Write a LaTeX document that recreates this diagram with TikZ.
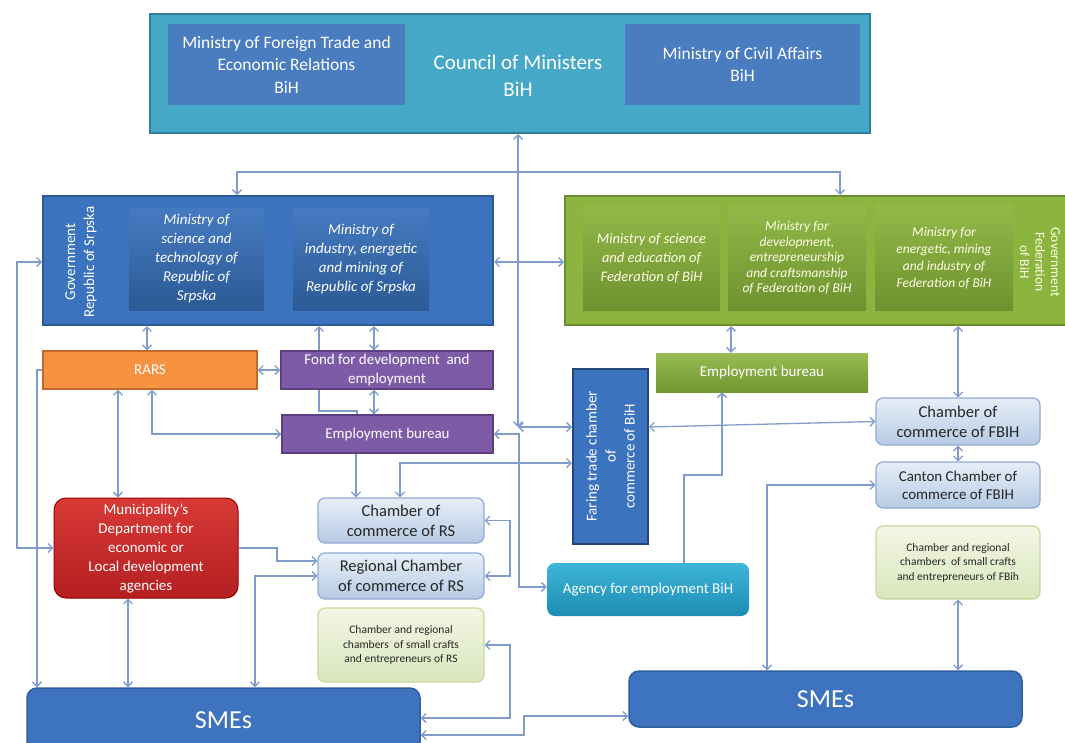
\documentclass[tikz,border=0pt]{standalone}
\usepackage{fontspec}
\setmainfont{Carlito}
\usetikzlibrary{arrows.meta,backgrounds}
\definecolor{linkblue}{HTML}{7F9CCD}
\definecolor{cmcyan}{HTML}{45A8C6}
\definecolor{cmedge}{HTML}{2E7D99}
\definecolor{midblue}{HTML}{4A7DC0}
\definecolor{rsblue}{HTML}{3B73BE}
\definecolor{rsedge}{HTML}{2C5A95}
\definecolor{fbgreen}{HTML}{8CB53F}
\definecolor{fbedge}{HTML}{6B8E2E}
\definecolor{rarsorange}{HTML}{F69240}
\definecolor{rarsedge}{HTML}{C2692B}
\definecolor{fondpurple}{HTML}{7D5BA6}
\definecolor{fondedge}{HTML}{5A3E7E}
\definecolor{agencytop}{HTML}{3DB5D8}
\definecolor{agencybot}{HTML}{1E8DB3}
\definecolor{munitop}{HTML}{D83A36}
\definecolor{munibot}{HTML}{B51F22}
\definecolor{chambertop}{HTML}{E6EEF8}
\definecolor{chamberbot}{HTML}{B7CBE4}
\definecolor{chamberedge}{HTML}{8EAAD3}
\definecolor{craftstop}{HTML}{F3F7E6}
\definecolor{craftsbot}{HTML}{DAE6BC}
\definecolor{craftsedge}{HTML}{C5D89E}
\definecolor{smeblue}{HTML}{3E73BF}
\definecolor{smeedge}{HTML}{2F5E9E}

\tikzstyle{every node}=[align=center,text=white,inner sep=1pt]
\tikzstyle{link}=[draw=linkblue,line width=1.3pt]
\tikzstyle{council}=[rectangle,draw=cmedge,line width=2pt,fill=cmcyan]
\tikzstyle{innerblue}=[rectangle,fill=midblue,font=\fontsize{17.5}{22.5}\selectfont]
\tikzstyle{rsbox}=[rectangle,draw=rsedge,line width=2pt,fill=rsblue]
\tikzstyle{rsinner}=[rectangle,top color=rsblue!95!white,bottom color=rsedge,font=\fontsize{15}{19}\selectfont\itshape]
\tikzstyle{fbbox}=[rectangle,draw=fbedge,line width=2pt,fill=fbgreen]
\tikzstyle{fbinner}=[rectangle,top color=fbgreen!95!white,bottom color=fbedge!90!fbgreen,text=white!90!yellow]
\tikzstyle{rars}=[rectangle,draw=rarsedge,line width=1.5pt,fill=rarsorange]
\tikzstyle{fond}=[rectangle,draw=fondedge,line width=1.5pt,fill=fondpurple]
\tikzstyle{bureau}=[rectangle,top color=fbgreen!90!white,bottom color=fbedge!80!fbgreen]
\tikzstyle{faring}=[rectangle,draw=rsedge!80!black,line width=2pt,fill=rsblue]
\tikzstyle{agency}=[rectangle,rounded corners=8pt,top color=agencytop,bottom color=agencybot]
\tikzstyle{muni}=[rectangle,rounded corners=12pt,draw=red!60!black,line width=1pt,top color=munitop,bottom color=munibot]
\tikzstyle{chamber}=[rectangle,rounded corners=7pt,draw=chamberedge,line width=1.2pt,top color=chambertop,bottom color=chamberbot,text=black!85,font=\fontsize{16.5}{20}\selectfont]
\tikzstyle{crafts}=[rectangle,rounded corners=7pt,draw=craftsedge,line width=1.2pt,top color=craftstop,bottom color=craftsbot,text=black!85,font=\fontsize{11.5}{14.5}\selectfont]
\tikzstyle{sme}=[rectangle,rounded corners=10pt,draw=smeedge,line width=1.5pt,fill=smeblue,font=\fontsize{26}{30}\selectfont]
\tikzset{wh/.style 2 args={minimum width=#1pt,minimum height=#2pt}}

\begin{document}
\begin{tikzpicture}[x=1pt,y=-1pt,>={Straight Barb[length=4.5pt,width=9pt]},font=\fontsize{15}{19}\selectfont]
	\useasboundingbox (0,0) rectangle (1065,742);
	%council of ministers
	\node[council,wh={720}{119}] (council) at (510,73.5) {};
	\node[innerblue,wh={237}{81}] (mft) at (286.5,64.5) {Ministry of Foreign Trade and\\Economic Relations\\BiH};
	\node[innerblue,wh={235}{81}] (mca) at (742.5,64.5) {Ministry of Civil Affairs\\BiH};
	\node[font=\fontsize{21}{27}\selectfont] (cmlabel) at (518,76) {Council of Ministers\\BiH};
	%republic of srpska
	\node[rsbox,wh={450}{129}] (rsgov) at (268,260.5) {};
	\node[rotate=90] (rslabel) at (81,262) {Government\\Republic of Srpska};
	\node[rsinner,wh={135}{102}] (rsms) at (196.5,259) {Ministry of\\science and\\technology of\\Republic of\\Srpska};
	\node[rsinner,wh={136}{102}] (rsmi) at (361,259) {Ministry of\\industry, energetic\\and mining of\\Republic of Srpska};
	%federation
	\node[fbbox,wh={510}{129}] (fbgov) at (820,260.5) {};
	\node[fbinner,wh={137}{105},font=\fontsize{14.5}{19}\selectfont\itshape] (fbms) at (651.5,258) {Ministry of science\\and education of\\Federation of BiH};
	\node[fbinner,wh={138}{105},font=\fontsize{13.5}{15.5}\selectfont\itshape] (fbmd) at (797,258) {Ministry for\\development,\\entrepreneurship\\and craftsmanship\\of Federation of BiH};
	\node[fbinner,wh={138}{105},font=\fontsize{13.5}{17}\selectfont\itshape] (fbme) at (944,258) {Ministry for\\energetic, mining\\and industry of\\Federation of BiH};
	\node[rotate=-90,text=white!90!yellow,font=\fontsize{13.5}{15.5}\selectfont] (fblabel) at (1040,262) {Government\\Federation\\of BiH};
	%agencies and bureaus
	\node[rars,wh={214}{38}] (rars) at (150,370) {RARS};
	\node[fond,wh={212}{38}] (fond) at (387,370) {Fond for development~ and\\employment};
	\node[fond,wh={211}{38}] (ebrs) at (387.5,434) {Employment bureau};
	\node[bureau,wh={212}{39}] (ebfb) at (762,372.5) {Employment bureau};
	\node[faring,wh={175}{75},rotate=90] (faring) at (610.5,456.5) {Faring trade chamber\\of\\commerce of BiH};
	\node[agency,wh={202}{53}] (agency) at (648,589.5) {Agency for employment BiH};
	\node[muni,wh={184}{100}] (muni) at (146,548) {Municipality's\\Department for\\economic or\\Local development\\agencies};
	%chambers
	\node[chamber,wh={166}{45}] (ccrs) at (401,520.5) {Chamber of\\commerce of RS};
	\node[chamber,wh={166}{46}] (rcrs) at (401,576) {Regional Chamber\\of commerce of RS};
	\node[crafts,wh={166}{74}] (crrs) at (401,645) {Chamber and regional\\chambers~ of small crafts\\and entrepreneurs of RS};
	\node[chamber,wh={164}{47}] (ccfb) at (958,421.5) {Chamber of\\commerce of FBIH};
	\node[chamber,wh={164}{46},font=\fontsize{15}{18}\selectfont] (ccan) at (958,485) {Canton Chamber of\\commerce of FBIH};
	\node[crafts,wh={164}{73}] (crfb) at (958,562.5) {Chamber and regional\\chambers~ of small crafts\\and entrepreneurs of FBih};
	%smes
	\node[sme,wh={393}{64}] (smers) at (223.5,720) {SMEs};
	\node[sme,wh={393}{56}] (smefb) at (825.5,699) {SMEs};
	%arrows
	\begin{scope}[on background layer]
	\coordinate (hub) at (518,172);
	\coordinate (fcorner) at (518,427);
	\draw[link,<-] (council.south -| hub) -- (hub);
	\draw[link,->] (hub) -| (rsgov.north -| 237,0);
	\draw[link,->] (hub) -| (fbgov.north -| 840,0);
	\draw[link,->] (hub) -- (fcorner);
	\draw[link,<->] (fcorner) -- (faring.north |- fcorner);
	\draw[link,<->] (rsgov.east |- 0,262) -- (fbgov.west |- 0,262);
	\draw[link,<->] (rsgov.west |- 0,262) -| (17,548) -- (muni.west |- 0,548);
	\draw[link,->] (rars.west) -| (smers.north -| 37,0);
	\draw[link,<->] (rsgov.south -| 147,0) -- (rars.north -| 147,0);
	\draw[link,<->] (rars) -- (fond);
	\draw[link,<->] (rsgov.south -| 374,0) -- (fond.north -| 374,0);
	\draw[link,<->] (fond.south -| 374,0) -- (ebrs.north -| 374,0);
	\draw[link,->] (ebrs.north -| 357,0) -- (357,411) -| (rsgov.south -| 319,0);
	\draw[link,<->] (rars.south -| 152,0) |- (ebrs.west);
	\draw[link,<->] (rars.south -| 118,0) -- (muni.north -| 118,0);
	\draw[link,<->] (muni.south -| 128,0) -- (smers.north -| 128,0);
	\draw[link,->] (ebrs.south -| 356,0) -- (ccrs.north -| 356,0);
	\draw[link,<->] (faring.north |- 0,463) -| (ccrs.north -| 400,0);
	\draw[link,->] (muni.east) -- (277,548) |- (rcrs.west |- 0,561);
	\draw[link,<->] (smers.north -| 255,0) |- (rcrs.west);
	\draw[link,<->] (ccrs.east) -| (510,550) |- (rcrs.east);
	\draw[link,<->] (crrs.east) -| (510,718) -- (smers.east |- 0,718);
	\draw[link,<->] (smers.east |- 0,735) -| (524,716) -- (smefb.west |- 0,716);
	\draw[link,<->] (ebrs.east) -| (519,587) -- (agency.west |- 0,587);
	\draw[link,->] (agency.north -| 684,0) |- (722,475) -- (ebfb.south -| 722,0);
	\draw[link,<->] (fbgov.south -| 731,0) -- (ebfb.north -| 731,0);
	\draw[link,<->] (fbgov.south -| ccfb) -- (ccfb.north);
	\draw[link,<->] (faring.south |- 0,427) -- (ccfb.west);
	\draw[link,<->] (ccfb) -- (ccan);
	\draw[link,<->] (smefb.north -| 767,0) |- (ccan.west);
	\draw[link,<->] (crfb) -- (smefb.north -| crfb);
	\end{scope}
\end{tikzpicture}
\end{document}
